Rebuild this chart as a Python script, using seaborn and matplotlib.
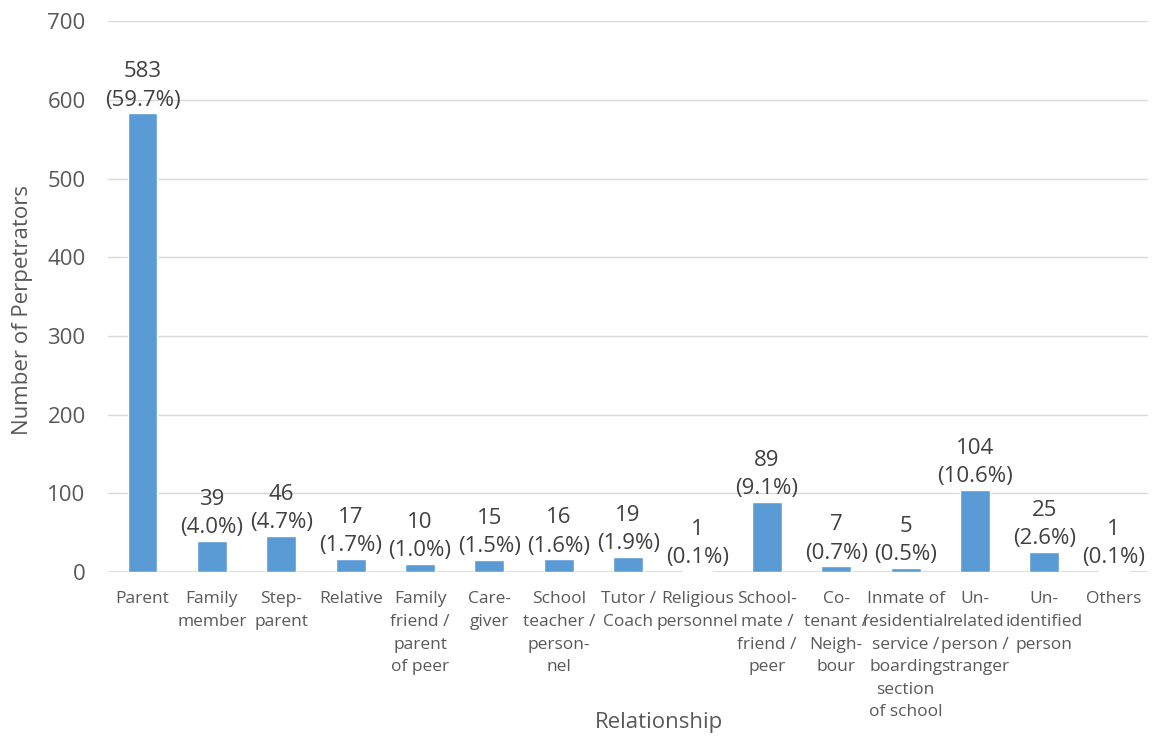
import numpy as np
import pandas as pd
import matplotlib
matplotlib.use("Agg")
import matplotlib.pyplot as plt
import seaborn as sns

# data
relationships = [
    "Parent", "Family\nmember", "Step-\nparent", "Relative",
    "Family\nfriend /\nparent\nof peer", "Care-\ngiver",
    "School\nteacher /\nperson-\nnel", "Tutor /\nCoach", "Religious\npersonnel",
    "School-\nmate /\nfriend /\npeer", "Co-\ntenant /\nNeigh-\nbour",
    "Inmate of\nresidential\nservice /\nboarding\nsection\nof school",
    "Un-\nrelated\nperson /\nstranger", "Un-\nidentified\nperson", "Others",
]
counts = [583, 39, 46, 17, 10, 15, 16, 19, 1, 89, 7, 5, 104, 25, 1]
percents = [59.7, 4.0, 4.7, 1.7, 1.0, 1.5, 1.6, 1.9, 0.1, 9.1, 0.7, 0.5, 10.6, 2.6, 0.1]

df = pd.DataFrame({"Relationship": relationships, "Count": counts})

sns.set_theme(style="white")
plt.rcParams['font.family'] = ['Open Sans', 'DejaVu Sans']
grey = "#595959"

fig = plt.figure(figsize=(11.6, 7.36), dpi=100)
ax = fig.add_axes([0.093, 0.223, 0.897, 0.748])

sns.barplot(data=df, x="Relationship", y="Count", color="#5B9BD5",
            width=0.43, saturation=1, ax=ax)

ax.set_ylim(0, 700)
ax.set_yticks(range(0, 701, 100))
ax.yaxis.grid(True, color="#D9D9D9", linewidth=1)
ax.set_axisbelow(True)
for s in ax.spines.values():
    s.set_visible(False)
ax.axhline(0, color="#D9D9D9", linewidth=1.2, zorder=0)

ax.tick_params(axis="y", labelsize=16, colors=grey, length=0, pad=16)
ax.tick_params(axis="x", labelsize=12.5, colors=grey, length=0, pad=14)
for lab in ax.get_xticklabels():
    lab.set_verticalalignment("top")
    lab.set_linespacing(1.55)

for i, (c, p) in enumerate(zip(counts, percents)):
    ax.annotate(f"{c}\n({p:.1f}%)", (i, c), xytext=(0, 2),
                textcoords="offset points", ha="center", va="bottom",
                fontsize=16, color="#404040", linespacing=1.45)

ax.set_xlabel("Relationship", fontsize=16, color=grey)
ax.xaxis.set_label_coords(0.53, -0.255)
ax.set_ylabel("Number of Perpetrators", fontsize=16, color=grey)
ax.yaxis.set_label_coords(-0.072, 0.475)

fig.savefig("out.png", dpi=100)
